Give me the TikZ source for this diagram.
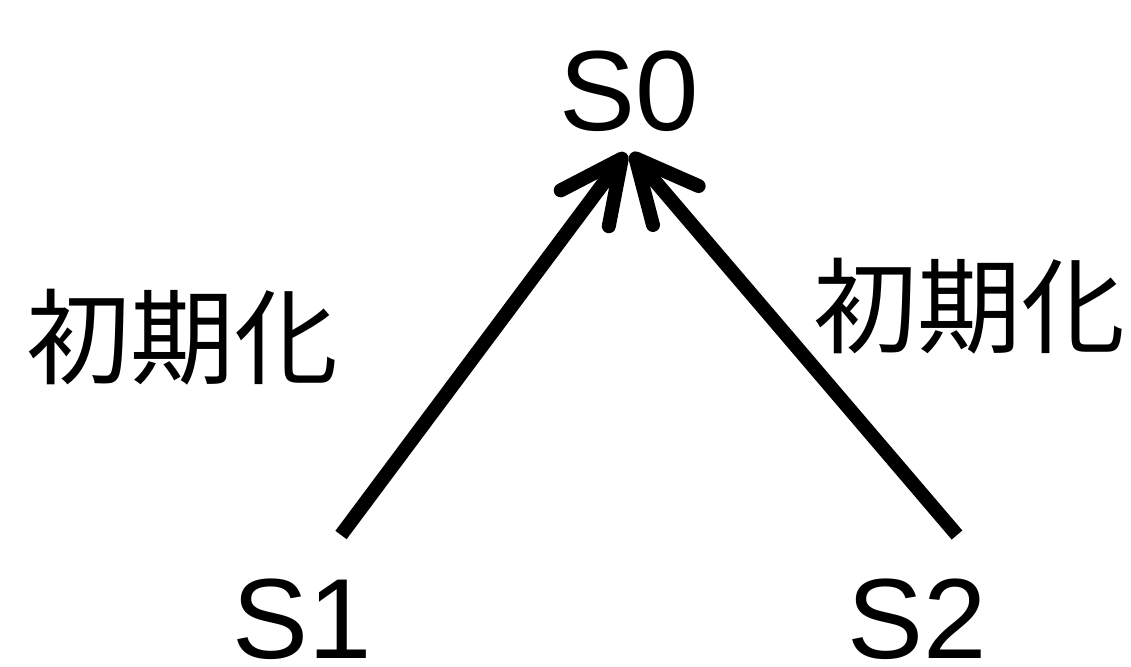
\documentclass[tikz,border=0pt]{standalone}
\usepackage{fontspec}
\setmainfont{Liberation Sans}
\newfontfamily\cjk{Noto Sans CJK JP}
\usetikzlibrary{arrows.meta}
\begin{document}
\begin{tikzpicture}[x=1pt,y=-1pt,
  state/.style={font=\fontsize{114}{114}\selectfont, inner sep=0pt, anchor=base},
  jlabel/.style={font=\cjk\fontsize{104}{104}\selectfont, inner sep=0pt},
  conn/.style={line width=14pt, -{Straight Barb[length=62pt,width=60pt,round]}}]
\useasboundingbox (0,0) rectangle (1131,666);
\node[state] (s0) at (629,130) {S0};
\node[state] (s1) at (302,658) {S1};
\node[state] (s2) at (917,658) {S2};
\coordinate (t1) at (626,153);
\coordinate (t2) at (631,153);
\coordinate (b1) at (341,535);
\coordinate (b2) at (957,535);
\node[jlabel] (l1) at (182,337) {初期化};
\node[jlabel] (l2) at (969,306) {初期化};
\draw[conn] (b1) -- (t1);
\draw[conn] (b2) -- (t2);
\end{tikzpicture}
\end{document}
